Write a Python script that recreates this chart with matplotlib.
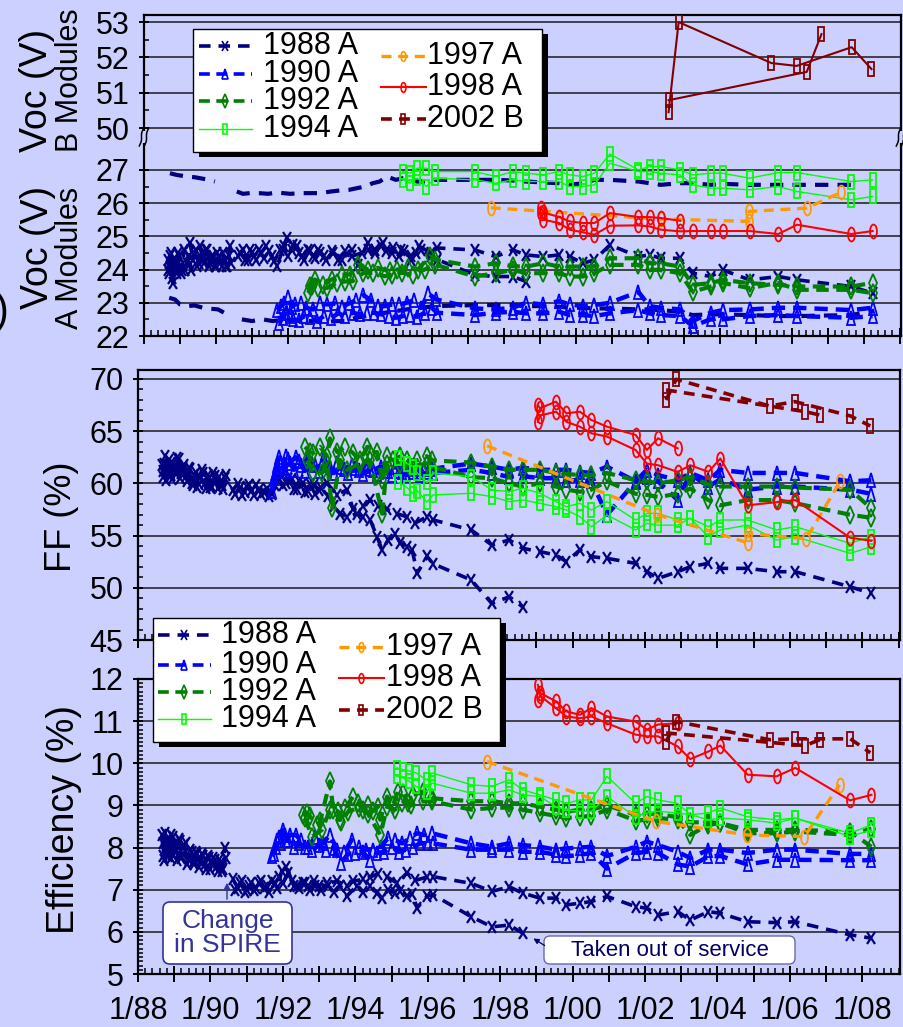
import numpy as np
import matplotlib
matplotlib.use("Agg")
import matplotlib.pyplot as plt
from matplotlib.markers import MarkerStyle
from matplotlib.transforms import Affine2D
from matplotlib.ticker import MultipleLocator, FixedLocator, FuncFormatter
from matplotlib.patches import Rectangle, FancyBboxPatch

plt.rcParams["font.family"] = ["Liberation Sans", "DejaVu Sans"]

nan = np.nan

# ---------------------------------------------------------------------------
# Measurement dates shared by most modules from 1997 on
LATE_T = [1997.20, 1997.77, 1998.25, 1998.62, 1999.10, 1999.54, 1999.83, 2000.20,
          2000.52, 2000.95, 2001.74, 2002.05, 2002.36, 2002.90, 2003.25, 2003.75,
          2004.08, 2004.83, 2005.63, 2006.15, 2007.66, 2008.25]

# ---- 1988 A modules ---------------------------------------------------------
NAVY1_T = [1988.66, 1988.70, 1988.75, 1988.80, 1988.86, 1988.92, 1988.98, 1989.05,
           1989.12, 1989.20, 1989.28, 1989.36, 1989.44, 1989.52, 1989.60, 1989.68,
           1989.76, 1989.84, 1989.92, 1990.00, 1990.08, 1990.16, 1990.24, 1990.32,
           1990.40, nan,
           1990.62, 1990.75, 1990.88, 1991.00, 1991.12, 1991.25, 1991.40, 1991.55,
           1991.70, 1991.85, 1991.97, 1992.10, 1992.25, 1992.40, 1992.55, 1992.70,
           1992.85, 1993.00, 1993.22, 1993.50, 1993.77, 1993.94, 1994.22, 1994.41,
           1994.63, 1994.88, 1995.15, 1995.43, 1995.65, 1995.98, 1996.15]
NAVY1_VOC = [24.3, 23.9, 24.5, 23.6, 24.2, 23.9, 24.4, 24.0, 24.6, 24.2, 24.8, 24.3,
             24.6, 24.2, 24.5, 24.2, 24.6, 24.2, 24.4, 24.1, 24.4, 24.1, 24.3, 24.1,
             24.7, nan,
             24.4, 24.6, 24.3, 24.5, 24.3, 24.5, 24.7, 24.4, 24.1, 24.6, 24.95, 24.6,
             24.7, 24.4, 24.6, 24.4, 24.6, 24.4, 24.55, 24.3, 24.6, 24.15, 24.8, 24.6,
             24.8, 24.5, 24.6, 24.4, 24.7, 24.5, 24.65]
NAVY1_FF = [61.8, 60.6, 62.6, 61.0, 62.2, 60.8, 61.9, 60.9, 62.3, 61.0, 61.8, 60.2,
            61.4, 59.8, 61.0, 59.9, 61.3, 60.0, 60.8, 59.7, 61.0, 60.2, 60.6, 59.8,
            60.5, nan,
            59.4, 59.9, 58.9, 59.7, 59.3, 59.8, 59.0, 59.5, 59.0, 60.3, 60.8, 60.0,
            60.4, 59.5, 60.0, 59.3, 59.8, 59.4, 60.0, 58.9, 59.4, 57.5, 57.8, 58.4,
            57.8, 57.5, 57.1, 56.8, 56.2, 56.8, 56.5]
NAVY1_EFF = [8.30, 7.80, 8.35, 7.90, 8.20, 7.75, 8.25, 7.90, 8.20, 7.75, 8.05, 7.60,
             7.95, 7.65, 7.90, 7.55, 7.85, 7.60, 7.80, 7.50, 7.75, 7.55, 7.70, 7.45,
             8.00, nan,
             7.25, 7.05, 7.20, 7.00, 7.15, 7.05, 7.20, 7.10, 7.20, 7.05, 7.45, 7.55,
             7.20, 7.10, 7.15, 7.10, 7.20, 7.10, 7.15, 7.20, 7.10, 7.20, 7.25, 7.30,
             7.38, 7.30, 7.16, 7.40, 7.22, 7.30, 7.31]
NAVY1_VOC_LATE = [24.59, 24.39, 24.59, 24.44, 24.39, 24.44, 24.39, 24.19, 24.29, 24.74,
                  24.39, 24.44, 24.34, 24.34, 23.89, 23.79, 23.99, 23.69, 23.79, 23.69,
                  23.49, 23.29]
NAVY1_FF_LATE = [55.54, 54.10, 54.58, 53.78, 53.46, 53.14, 52.50, 53.62, 52.98, 52.82,
                 52.34, 51.54, 50.90, 51.54, 52.02, 52.34, 51.86, 51.86, 51.54, 51.54,
                 50.10, 49.46]
NAVY1_EFF_LATE = [7.15, 6.96, 7.07, 6.92, 6.80, 6.80, 6.64, 6.68, 6.72, 6.84, 6.60,
                  6.56, 6.40, 6.48, 6.28, 6.48, 6.44, 6.24, 6.22, 6.24, 5.93, 5.85]

NAVY2_T = [1988.68, 1988.73, 1988.78, 1988.83, 1988.90, 1988.95, 1989.02, 1989.08,
           1989.15, 1989.24, 1989.32, 1989.40, 1989.48, 1989.56, 1989.64, 1989.72,
           1989.80, 1989.88, 1989.96, 1990.04, 1990.12, 1990.20, 1990.28, 1990.36,
           1990.42, nan,
           1990.68, 1990.82, 1990.95, 1991.06, 1991.20, 1991.33, 1991.48, 1991.62,
           1991.78, 1991.90, 1992.00, 1992.15, 1992.30, 1992.45, 1992.60, 1992.75,
           1992.90, 1993.05, 1993.25, 1993.40, 1993.58, 1993.77, 1994.05, 1994.22,
           1994.41, 1994.60, 1994.74, 1994.91, 1995.10, 1995.24, 1995.43, 1995.57,
           1995.71, 1995.98, 1996.15]
NAVY2_VOC = [24.0, 24.4, 23.75, 24.3, 24.0, 24.5, 23.9, 24.2, 24.0, 24.4, 24.0, 24.5,
             24.1, 24.7, 24.3, 24.6, 24.1, 24.4, 24.1, 24.5, 24.2, 24.5, 24.1, 24.4,
             24.2, nan,
             24.5, 24.3, 24.6, 24.4, 24.6, 24.35, 24.55, 24.25, 24.6, 24.7, 24.4, 24.75,
             24.5, 24.3, 24.55, 24.35, 24.5, 24.3, 24.5, 24.3, 24.55, 24.4, 24.5, 24.6,
             24.5, 24.7, 24.55, 24.65, 24.4, 24.55, 24.3, 24.5, 24.6, 24.4, 24.3]
NAVY2_FF = [61.2, 61.9, 60.3, 61.6, 62.0, 60.4, 61.5, 62.4, 60.5, 61.6, 60.7, 61.5,
            60.0, 60.8, 59.7, 60.6, 61.0, 59.6, 60.5, 59.7, 60.7, 59.6, 60.2, 59.5,
            60.8, nan,
            59.0, 59.6, 59.2, 59.8, 58.9, 59.4, 59.2, 58.8, 59.8, 60.5, 59.8, 60.4,
            59.5, 60.2, 59.2, 59.9, 59.0, 59.6, 58.8, 57.8, 57.1, 56.8, 57.1, 56.8,
            56.5, 54.9, 53.6, 54.6, 55.2, 54.3, 53.9, 53.6, 51.4, 53.0, 52.3]
NAVY2_EFF = [8.10, 7.70, 8.15, 7.80, 8.30, 7.85, 8.10, 7.70, 8.15, 7.85, 8.10, 7.70,
             7.90, 7.60, 7.85, 7.65, 7.80, 7.50, 7.75, 7.60, 7.70, 7.45, 7.65, 7.50,
             7.75, nan,
             7.00, 7.15, 6.95, 7.10, 7.00, 7.15, 7.05, 6.95, 7.15, 7.30, 7.15, 7.40,
             7.10, 7.05, 7.15, 7.00, 7.10, 7.00, 7.10, 6.95, 7.10, 6.85, 7.10, 6.95,
             7.10, 6.92, 6.80, 7.00, 6.92, 6.96, 6.85, 6.90, 6.57, 6.85, 6.88]
NAVY2_VOC_LATE = [23.84, 23.79, 23.79, 23.64]
NAVY2_FF_LATE = [50.75, 48.50, 49.14, 48.18]
NAVY2_EFF_LATE = [6.36, 6.12, 6.16, 5.97]

# upper and lower 1988 A open-circuit voltage traces
VOC_A_T = [1988.72, 1988.90, 1989.19, 1989.40, 1989.56, 1989.80, 1989.97, nan,
           1990.58, 1990.75, 1990.94, 1991.20, 1991.45, 1991.69, 1992.06, 1992.42,
           1992.89, 1993.20, 1993.44, 1993.70, 1993.92, 1994.15, 1994.36, 1994.55,
           1994.75, 1995.00, 1995.19, 1995.40, 1995.58, 1995.94, 1996.08]
VOC_A_EARLY = [26.90, 26.85, 26.80, 26.78, 26.75, 26.70, 26.65, nan,
               26.35, 26.28, 26.30, 26.30, 26.28, 26.32, 26.28, 26.30, 26.30, 26.35,
               26.38, 26.40, 26.45, 26.50, 26.60, 26.65, 26.80, 26.70, 26.75, 26.75,
               26.65, 26.65, 26.70]
VOC_A_LATE = [26.70, 26.70, 26.68, 26.65, 26.62, 26.60, 26.55, 26.60, 26.70, 26.70,
              26.65, 26.60, 26.55, 26.60, 26.60, 26.55, 26.58, 26.55, 26.55, 26.55,
              26.55, nan]
VOC_D_T = [1988.70, 1988.86, 1989.00, 1989.22, 1989.40, 1989.64, 1989.85, 1990.06,
           1990.31, nan,
           1990.72, 1991.00, 1991.30, 1991.58, 1991.90, 1992.33, 1992.70, 1993.00,
           1993.30, 1993.60, 1993.90, 1994.30, 1994.70, 1995.00, 1995.30, 1995.70,
           1996.08]
VOC_D_EARLY = [23.15, 23.10, 22.95, 22.90, 22.92, 22.85, 22.82, 22.80, 22.65, nan,
               22.50, 22.45, 22.50, 22.45, 22.50, 22.45, 22.45, 22.40, 22.45, 22.45,
               22.55, 22.62, 22.70, 22.75, 22.80, 22.85, 22.90]
VOC_D_LATE = [22.93, 22.93, 22.93, 22.90, 22.90, 22.88, 22.85, 22.85, 22.83, 22.83,
              22.80, 22.80, 22.78, 22.73, 22.63, 22.65, 22.65, 22.63, 22.60, 22.60,
              22.63, 22.75]

# ---- 1990 A modules ---------------------------------------------------------
BLUE1_T = [1991.70, 1991.80, 1991.90, 1992.00, 1992.10, 1992.20, 1992.35, 1992.50,
           1992.70, 1992.90, 1993.10, 1993.30, 1993.50, 1993.70, 1993.90, 1994.10,
           1994.30, 1994.50, 1994.70, 1994.90, 1995.10, 1995.30, 1995.50, 1995.70,
           1995.90, 1996.12]
BLUE1_VOC = [22.78, 22.90, 22.98, 23.18, 22.88, 22.95, 22.98, 22.85, 22.80, 22.98,
             22.95, 22.98, 22.88, 22.98, 23.08, 23.23, 23.08, 22.90, 22.90, 22.95,
             22.95, 23.00, 23.08, 22.85, 23.28, 23.10]
BLUE1_FF = [59.3, 61.2, 62.5, 61.5, 62.6, 62.0, 62.5, 61.8, 62.4, 61.8, 62.2, 61.6,
            62.0, 61.4, 61.8, 61.3, 61.7, 61.3, 61.6, 61.2, 61.6, 61.1, 61.4, 61.1,
            61.4, 61.4]
BLUE1_EFF = [7.79, 8.01, 8.26, 8.42, 8.18, 8.30, 8.30, 8.18, 8.02, 8.26, 8.10, 8.30,
             7.95, 7.90, 8.18, 8.02, 7.95, 7.95, 8.02, 8.22, 8.18, 8.10, 8.22, 8.34,
             8.30, 8.34]
BLUE2_T = [1991.76, 1991.85, 1991.95, 1992.05, 1992.15, 1992.30, 1992.45, 1992.60,
           1992.80, 1993.00, 1993.20, 1993.40, 1993.60, 1993.80, 1994.00, 1994.20,
           1994.40, 1994.60, 1994.80, 1995.00, 1995.20, 1995.40, 1995.60, 1995.80,
           1996.00, 1996.14]
BLUE2_VOC = [22.38, 22.55, 22.68, 22.60, 22.50, 22.48, 22.60, 22.58, 22.45, 22.60,
             22.55, 22.68, 22.60, 22.70, 22.65, 22.70, 22.70, 22.65, 22.60, 22.55,
             22.60, 22.62, 22.58, 22.70, 22.85, 22.70]
BLUE2_FF = [60.5, 61.8, 62.0, 61.2, 62.3, 61.3, 62.1, 61.2, 61.9, 61.2, 61.8, 61.0,
            61.6, 61.0, 61.5, 60.9, 61.4, 60.9, 61.2, 60.8, 61.2, 60.8, 61.1, 60.8,
            61.1, 61.0]
BLUE2_EFF = [7.85, 8.17, 8.10, 8.30, 8.18, 8.02, 8.10, 8.02, 7.95, 8.05, 7.95, 8.00,
             7.63, 7.85, 7.87, 7.90, 7.71, 7.87, 7.90, 8.02, 7.90, 7.95, 8.02, 8.10,
             8.10, 8.10]
BLUE1_VOC_LATE = [22.83, 22.80, 22.85, 23.00, 22.95, 23.05, 22.95, 22.90, 22.93, 23.00,
                  23.33, 22.90, 22.85, 22.80, 22.45, 22.70, 22.78, 22.80, 22.85, 22.85,
                  22.78, 22.85]
BLUE2_VOC_LATE = [22.63, 22.70, 22.73, 22.68, 22.68, 22.73, 22.63, 22.63, 22.60, 22.68,
                  22.78, 22.68, 22.63, 22.60, 22.30, 22.50, 22.50, 22.60, 22.63, 22.60,
                  22.55, 22.60]
BLUE1_FF_LATE = [61.9, 61.6, 61.3, 61.5, 61.3, 61.3, 61.3, 61.1, 61.0, 61.6, 60.2, 61.3,
                 60.8, 60.3, 61.0, 60.3, 61.3, 61.0, 61.0, 61.0, 60.2, 60.3]
BLUE2_FF_LATE = [61.3, 61.0, 60.6, 60.7, 60.5, 60.5, 60.3, 60.3, 60.2, 57.0, 60.17, 60.6,
                 60.2, 58.4, 60.9, 59.7, 60.4, 59.4, 59.7, 59.7, 59.4, 59.0]
BLUE1_EFF_LATE = [8.10, 8.02, 8.10, 8.06, 8.02, 7.95, 7.98, 8.00, 8.02, 7.80, 8.02, 8.14,
                  8.06, 7.90, 7.75, 7.95, 7.95, 7.87, 7.95, 7.95, 7.85, 7.85]
BLUE2_EFF_LATE = [7.95, 7.95, 7.95, 7.90, 7.90, 7.83, 7.79, 7.83, 7.87, 7.50, 7.87, 7.90,
                  7.87, 7.60, 7.55, 7.79, 7.80, 7.60, 7.71, 7.71, 7.70, 7.70]

# ---- 1992 A modules ---------------------------------------------------------
GREEN1_VOC_T = [1992.60, 1992.75, 1992.97, 1993.22, 1993.50, 1993.72, 1993.94, 1994.22,
                1994.50, 1994.83, 1995.03, 1995.33, 1995.61, 1995.94, 1996.08]
GREEN1_VOC = [23.50, 23.70, 23.55, 23.70, 23.85, 23.85, 24.15, 24.00, 24.05, 23.95,
              24.00, 24.05, 24.00, 24.40, 24.30]
GREEN2_VOC_T = [1992.56, 1992.67, 1992.83, 1993.10, 1993.36, 1993.58, 1993.80, 1994.10,
                1994.36, 1994.69, 1994.90, 1995.17, 1995.47, 1995.80, 1996.08]
GREEN2_VOC = [23.29, 23.49, 23.44, 23.45, 23.60, 23.64, 23.65, 23.90, 23.89, 23.80,
              23.85, 23.90, 23.85, 24.00, 24.15]
GREEN1_FF_T = [1992.61, 1992.75, 1992.84, 1993.03, 1993.22, 1993.30, 1993.50, 1993.72,
               1993.94, 1994.13, 1994.33, 1994.41, 1994.60, 1994.74, 1994.88, 1995.04,
               1995.24, 1995.43, 1995.71, 1995.98, 1996.12]
GREEN1_FF = [63.5, 63.0, 62.9, 63.5, 62.6, 64.3, 63.0, 63.5, 62.9, 62.2, 63.5, 62.9,
             63.0, 60.3, 62.6, 62.2, 62.6, 62.2, 62.2, 62.6, 62.2]
GREEN2_FF_T = [1992.67, 1992.84, 1993.08, 1993.22, 1993.36, 1993.58, 1993.77, 1994.13,
               1994.41, 1994.74, 1994.88, 1995.24, 1995.51, 1995.98, 1996.12]
GREEN2_FF = [62.2, 61.0, 61.0, 62.0, 57.6, 62.24, 61.3, 61.9, 62.2, 57.1, 61.9, 61.9,
             61.6, 61.9, 61.6]
GREEN1_EFF_T = [1992.56, 1992.67, 1992.75, 1992.94, 1993.03, 1993.30, 1993.39, 1993.58,
                1993.72, 1993.94, 1994.08, 1994.22, 1994.35, 1994.49, 1994.63, 1994.69,
                1994.88, 1995.04, 1995.18, 1995.32, 1995.46, 1995.60, 1995.87, 1996.12]
GREEN1_EFF = [8.78, 8.82, 8.74, 8.54, 8.62, 9.57, 8.90, 8.66, 8.94, 9.21, 9.05, 8.90,
              9.01, 8.86, 8.97, 8.66, 9.21, 9.01, 9.33, 9.29, 9.05, 9.25, 9.33, 9.17]
GREEN2_EFF_T = [1992.60, 1992.81, 1993.08, 1993.30, 1993.52, 1993.60, 1993.80, 1994.10,
                1994.35, 1994.69, 1994.88, 1995.10, 1995.30, 1995.55, 1995.87, 1996.12]
GREEN2_EFF = [8.70, 8.26, 8.42, 8.90, 8.86, 8.60, 8.85, 8.95, 8.80, 8.30, 8.97, 8.90,
              9.05, 9.00, 9.10, 9.10]
GREEN1_VOC_LATE = [24.09, 24.19, 24.10, 24.09, 24.19, 24.09, 24.09, 24.09, 24.09, 24.34,
                   24.34, 24.19, 24.19, 24.09, 23.54, 23.59, 23.69, 23.59, 23.54, 23.49,
                   23.49, 23.60]
GREEN2_VOC_LATE = [23.79, 23.89, 23.99, 23.89, 23.89, 23.89, 23.79, 23.79, 23.89, 24.14,
                   24.14, 23.99, 23.99, 23.89, 23.33, 23.49, 23.60, 23.44, 23.60, 23.39,
                   23.39, 23.29]
GREEN1_FF_LATE = [62.0, 61.6, 61.3, 61.3, 61.3, 61.0, 60.9, 60.8, 60.8, 61.0, 60.3, 60.2,
                  60.0, 60.3, 60.6, 59.9, 59.7, 59.7, 59.7, 59.6, 59.4, 57.6]
GREEN2_FF_LATE = [60.6, 60.5, 60.0, 59.7, 60.0, 59.7, 59.4, 59.2, 59.4, 60.2, 59.0, 58.9,
                  58.7, 59.0, 59.5, 58.4, 57.9, 58.4, 58.4, 58.1, 57.0, 56.7]
GREEN1_EFF_LATE = [9.10, 9.10, 9.05, 9.05, 8.97, 8.90, 8.85, 8.90, 8.90, 9.00, 8.78, 8.80,
                   8.80, 8.72, 8.60, 8.60, 8.58, 8.42, 8.42, 8.42, 8.38, 8.02]
GREEN2_EFF_LATE = [8.90, 8.94, 8.95, 8.90, 8.82, 8.75, 8.70, 8.73, 8.75, 8.90, 8.64, 8.66,
                   8.70, 8.66, 8.30, 8.54, 8.58, 8.34, 8.34, 8.38, 8.30, 8.45]

# ---- 1994 A modules ---------------------------------------------------------
LIME_VOC_T = [1995.20, 1995.40, 1995.60, 1995.85, 1996.10]
LIME1_VOC = [26.95, 26.90, 27.05, 27.05, 26.95]
LIME2_VOC = [26.70, 26.60, 26.75, 26.50, 26.75]
LIME_FF_T = [1995.18, 1995.43, 1995.60, 1995.71, 1995.98, 1996.15]
LIME1_FF = [62.4, 61.9, 61.6, 61.0, 60.1, 61.0]
LIME2_FF = [60.1, 59.6, 59.0, 59.3, 58.2, 58.9]
LIME_EFF_T = [1995.15, 1995.32, 1995.49, 1995.68, 1995.98, 1996.12]
LIME1_EFF = [9.89, 9.85, 9.82, 9.77, 9.60, 9.77]
LIME2_EFF = [9.69, 9.65, 9.57, 9.45, 9.33, 9.53]
LIME1_VOC_LATE = [26.95, 26.80, 26.95, 26.90, 26.85, 26.95, 26.85, 26.80, 26.90, 27.48,
                  27.00, 27.10, 27.10, 27.00, 26.85, 26.90, 26.90, 26.75, 26.92, 26.92,
                  26.65, 26.70]
LIME2_VOC_LATE = [26.70, 26.60, 26.70, 26.65, 26.65, 26.65, 26.50, 26.50, 26.55, 27.20,
                  26.95, 26.95, 26.90, 26.85, 26.55, 26.45, 26.45, 26.40, 26.50, 26.35,
                  26.10, 26.20]
LIME1_FF_LATE = [60.64, 59.37, 59.21, 59.53, 59.05, 58.25, 57.77, 58.09, 57.45, 58.25,
                 56.49, 57.13, 57.13, 56.49, 56.66, 55.85, 56.49, 56.50, 55.54, 55.85,
                 54.26, 54.90]
LIME2_FF_LATE = [59.05, 58.73, 58.25, 58.41, 58.09, 57.77, 57.45, 56.81, 55.85, 56.97,
                 55.54, 56.17, 56.00, 56.00, 56.66, 54.90, 55.54, 56.00, 54.58, 54.90,
                 53.30, 53.94]
LIME1_EFF_LATE = [9.49, 9.45, 9.61, 9.37, 9.25, 9.13, 9.05, 9.13, 9.13, 9.69, 9.05, 9.21,
                  9.13, 9.05, 8.78, 8.82, 8.94, 8.73, 8.66, 8.70, 8.34, 8.54]
LIME2_EFF_LATE = [9.29, 9.29, 9.37, 9.25, 9.21, 8.97, 8.90, 8.86, 8.86, 9.21, 8.73, 8.82,
                  8.86, 8.82, 8.78, 8.66, 8.70, 8.66, 8.58, 8.70, 8.26, 8.42]

# ---- 1997 A module ----------------------------------------------------------
ORANGE_VOC_T = [1997.64, 2002.36, 2004.81, 2004.81, 2006.42, 2007.36]
ORANGE_VOC = [25.86, 25.52, 25.45, 25.75, 25.85, 26.32]
ORANGE_FF_T = [1997.64, 2002.34, 2004.85, 2004.85, 2006.45, 2007.39]
ORANGE_FF = [63.6, 57.0, 54.3, 55.2, 54.7, 60.2]
ORANGE_EFF_T = [1997.64, 2002.31, 2004.82, 2006.40, 2007.37]
ORANGE_EFF = [10.04, 8.62, 8.30, 8.26, 9.49]

# ---- 1998 A modules ---------------------------------------------------------
RED_T = [1999.04, 1999.10] + LATE_T[5:]
RED1_VOC = [25.86, 25.72, 25.58, 25.45, 25.40, 25.40, 25.70, 25.58, 25.58, 25.55, 25.47]
RED2_VOC = [25.70, 25.50, 25.40, 25.20, 25.12, 25.05, 25.32, 25.33, 25.30, 25.20, 25.15,
            25.16, 25.16, 25.16, 25.16, 25.07, 25.35, 25.07, 25.16]
RED1_FF = [67.5, 67.2, 67.83, 66.71, 66.87, 66.07, 65.43, 64.64, 63.2, 64.32, 63.36]
RED2_FF = [65.9, 66.5, 66.87, 65.9, 65.43, 64.8, 64.48, 63.2, 61.9, 61.74, 61.1, 61.74,
           61.1, 62.38, 57.9, 58.2, 58.4, 54.8, 54.5]
RED1_EFF = [11.86, 11.67, 11.47, 11.23, 11.15, 11.31, 11.11, 10.99, 10.80, 10.92, 10.95]
RED2_EFF = [11.51, 11.60, 11.31, 11.11, 11.07, 11.11, 10.95, 10.68, 10.64, 10.64, 10.40,
            10.10, 10.28, 10.42, 9.73, 9.69, 9.89, 9.12, 9.25]

# ---- 2002 B modules ---------------------------------------------------------
DRED1_T = [2002.58, 2002.86, 2005.44, 2006.14, 2007.67, 2008.22]
DRED2_T = [2002.58, 2006.42, 2006.83]
DRED1_VOC = [50.45, 53.00, 51.84, 51.76, 52.29, 51.67]
DRED2_VOC = [50.79, 51.59, 52.66]
DRED1_FF = [67.99, 69.97, 67.41, 67.83, 66.46, 65.50]
DRED2_FF = [68.95, 66.87, 66.55]
DRED1_EFF = [10.51, 10.99, 10.56, 10.58, 10.58, 10.25]
DRED2_EFF = [10.72, 10.42, 10.56]

YEAR_LABELS = ["1/88", "1/90", "1/92", "1/94", "1/96", "1/98",
               "1/00", "1/02", "1/04", "1/06", "1/08"]
LEGEND_COL1 = ["1988 A", "1990 A", "1992 A", "1994 A"]
LEGEND_COL2 = ["1997 A", "1998 A", "2002 B"]

# ---------------------------------------------------------------------------
W, H, DPI = 904, 1027, 100
BG = "#ccd0ff"


def tall(shape, sx):
    return MarkerStyle(shape, fillstyle="none",
                       transform=Affine2D().scale(sx, 1.0))


STYLE = {
    "1988 A": dict(color="#000080", ls=(0, (3.2, 2.2)), lw=2.6, marker=tall("x", 0.72), ms=8.0, mew=1.6),
    "1990 A": dict(color="#0000ff", ls=(0, (3.0, 1.8)), lw=3.2, marker=tall("^", 0.62), ms=9.5, mew=1.3),
    "1992 A": dict(color="#008000", ls=(0, (3.0, 1.8)), lw=3.0, marker=tall("D", 0.45), ms=9.5, mew=1.3),
    "1994 A": dict(color="#00ff00", ls="-", lw=1.0, marker=tall("s", 0.5), ms=9.5, mew=1.3),
    "1997 A": dict(color="#ff9900", ls=(0, (3.0, 2.0)), lw=2.4, marker=tall("o", 0.5), ms=10, mew=1.3),
    "1998 A": dict(color="#ff0000", ls="-", lw=1.5, marker=tall("o", 0.5), ms=10, mew=1.3),
    "2002 B": dict(color="#800000", ls=(0, (3.0, 2.0)), lw=2.6, marker=tall("s", 0.5), ms=10, mew=1.3),
}


def draw(ax, t, v, key, markers=True, **over):
    st = dict(STYLE[key])
    st.update(over)
    ax.plot(t, v, color=st["color"], linestyle=st["ls"], linewidth=st["lw"],
            marker=st["marker"] if markers else "None", markersize=st["ms"],
            markeredgewidth=st["mew"], markerfacecolor="none",
            markeredgecolor=st["color"], zorder=3)


def join(a, b):
    return np.r_[np.asarray(a, float), np.asarray(b, float)]


def px_box(x0, y0, x1, y1):
    return [x0 / W, 1 - y1 / H, (x1 - x0) / W, (y1 - y0) / H]


fig = plt.figure(figsize=(W / DPI, H / DPI), dpi=DPI, facecolor=BG)
ax_vb = fig.add_axes(px_box(144, 15, 901, 137))
ax_va = fig.add_axes(px_box(144, 137, 901, 336))
ax_ff = fig.add_axes(px_box(138, 370, 900, 640))
ax_ef = fig.add_axes(px_box(138, 679, 900, 974))

for ax in (ax_vb, ax_va, ax_ff, ax_ef):
    ax.set_facecolor("none")
    ax.set_xlim(1988, 2009.04)
    for s in ax.spines.values():
        s.set_linewidth(1.6)
    ax.xaxis.set_major_locator(MultipleLocator(1))
    ax.xaxis.set_minor_locator(MultipleLocator(0.2))
    ax.tick_params(axis="x", which="major", direction="inout", length=12, width=1.4,
                   labelsize=22, pad=10, top=False, labelbottom=False)
    ax.tick_params(axis="x", which="minor", direction="in", length=4.5, width=1.1, top=False)
    ax.tick_params(axis="y", which="major", direction="inout", length=7, width=1.4,
                   labelsize=22, pad=7, right=False)
    ax.tick_params(axis="y", which="minor", direction="in", length=3.5, width=1.1, right=False)
    ax.yaxis.grid(True, which="major", color="#1a1a1a", lw=1.1)
    ax.set_axisbelow(True)
    ax.yaxis.set_major_formatter(FuncFormatter(lambda y, p: "%d" % round(y)))

# Voc axes with a broken scale
ax_vb.set_ylim(49.75, 53.2)
ax_vb.yaxis.set_major_locator(FixedLocator([50, 51, 52, 53]))
ax_vb.yaxis.set_minor_locator(FixedLocator([50.5, 51.5, 52.5]))
ax_vb.spines["bottom"].set_visible(False)
ax_vb.tick_params(axis="x", which="both", bottom=False, labelbottom=False)
ax_va.set_ylim(22, 27.99)
ax_va.yaxis.set_major_locator(FixedLocator([22, 23, 24, 25, 26, 27]))
ax_va.yaxis.set_minor_locator(FixedLocator([22.5, 23.5, 24.5, 25.5, 26.5]))
ax_va.spines["top"].set_visible(False)

ax_ff.set_ylim(45, 70.86)
ax_ff.yaxis.set_major_locator(MultipleLocator(5))
ax_ff.yaxis.set_minor_locator(MultipleLocator(1))

ax_ef.set_ylim(5, 12)
ax_ef.yaxis.set_major_locator(MultipleLocator(1))
ax_ef.yaxis.set_minor_locator(MultipleLocator(0.1))
ax_ef.set_xticks(np.arange(1988, 2009, 1), minor=False,
                 labels=[YEAR_LABELS[i // 2] if i % 2 == 0 else "" for i in range(21)])
ax_ef.xaxis.set_minor_locator(MultipleLocator(0.2))
ax_ef.tick_params(axis="x", labelbottom=True)

# ---- Voc -------------------------------------------------------------------
draw(ax_va, join(VOC_A_T, LATE_T), join(VOC_A_EARLY, VOC_A_LATE), "1988 A", markers=False, lw=3.0)
draw(ax_va, join(VOC_D_T, LATE_T), join(VOC_D_EARLY, VOC_D_LATE), "1988 A", markers=False, lw=3.0)
draw(ax_va, join(NAVY1_T, LATE_T), join(NAVY1_VOC, NAVY1_VOC_LATE), "1988 A")
draw(ax_va, join(NAVY2_T, LATE_T[:4]), join(NAVY2_VOC, NAVY2_VOC_LATE), "1988 A")
draw(ax_va, join(BLUE1_T, LATE_T), join(BLUE1_VOC, BLUE1_VOC_LATE), "1990 A")
draw(ax_va, join(BLUE2_T, LATE_T), join(BLUE2_VOC, BLUE2_VOC_LATE), "1990 A")
draw(ax_va, join(GREEN1_VOC_T, LATE_T), join(GREEN1_VOC, GREEN1_VOC_LATE), "1992 A")
draw(ax_va, join(GREEN2_VOC_T, LATE_T), join(GREEN2_VOC, GREEN2_VOC_LATE), "1992 A")
draw(ax_va, join(LIME_VOC_T, LATE_T), join(LIME1_VOC, LIME1_VOC_LATE), "1994 A")
draw(ax_va, join(LIME_VOC_T, LATE_T), join(LIME2_VOC, LIME2_VOC_LATE), "1994 A")
draw(ax_va, ORANGE_VOC_T, ORANGE_VOC, "1997 A")
draw(ax_va, RED_T[:len(RED1_VOC)], RED1_VOC, "1998 A")
draw(ax_va, RED_T, RED2_VOC, "1998 A")
draw(ax_vb, DRED1_T, DRED1_VOC, "2002 B", ls="-", lw=1.5)
draw(ax_vb, DRED2_T, DRED2_VOC, "2002 B", ls="-", lw=1.5)

# ---- FF --------------------------------------------------------------------
draw(ax_ff, join(NAVY1_T, LATE_T), join(NAVY1_FF, NAVY1_FF_LATE), "1988 A")
draw(ax_ff, join(NAVY2_T, LATE_T[:4]), join(NAVY2_FF, NAVY2_FF_LATE), "1988 A")
draw(ax_ff, join(BLUE1_T, LATE_T), join(BLUE1_FF, BLUE1_FF_LATE), "1990 A")
draw(ax_ff, join(BLUE2_T, LATE_T), join(BLUE2_FF, BLUE2_FF_LATE), "1990 A")
draw(ax_ff, join(GREEN1_FF_T, LATE_T), join(GREEN1_FF, GREEN1_FF_LATE), "1992 A")
draw(ax_ff, join(GREEN2_FF_T, LATE_T), join(GREEN2_FF, GREEN2_FF_LATE), "1992 A")
draw(ax_ff, join(LIME_FF_T, LATE_T), join(LIME1_FF, LIME1_FF_LATE), "1994 A")
draw(ax_ff, join(LIME_FF_T, LATE_T), join(LIME2_FF, LIME2_FF_LATE), "1994 A")
draw(ax_ff, ORANGE_FF_T, ORANGE_FF, "1997 A")
draw(ax_ff, RED_T[:len(RED1_FF)], RED1_FF, "1998 A")
draw(ax_ff, RED_T, RED2_FF, "1998 A")
draw(ax_ff, DRED1_T, DRED1_FF, "2002 B")
draw(ax_ff, DRED2_T, DRED2_FF, "2002 B")

# ---- Efficiency ------------------------------------------------------------
draw(ax_ef, join(NAVY1_T, LATE_T), join(NAVY1_EFF, NAVY1_EFF_LATE), "1988 A")
draw(ax_ef, join(NAVY2_T, LATE_T[:4]), join(NAVY2_EFF, NAVY2_EFF_LATE), "1988 A")
draw(ax_ef, join(BLUE1_T, LATE_T), join(BLUE1_EFF, BLUE1_EFF_LATE), "1990 A")
draw(ax_ef, join(BLUE2_T, LATE_T), join(BLUE2_EFF, BLUE2_EFF_LATE), "1990 A")
draw(ax_ef, join(GREEN1_EFF_T, LATE_T), join(GREEN1_EFF, GREEN1_EFF_LATE), "1992 A")
draw(ax_ef, join(GREEN2_EFF_T, LATE_T), join(GREEN2_EFF, GREEN2_EFF_LATE), "1992 A")
draw(ax_ef, join(LIME_EFF_T, LATE_T), join(LIME1_EFF, LIME1_EFF_LATE), "1994 A")
draw(ax_ef, join(LIME_EFF_T, LATE_T), join(LIME2_EFF, LIME2_EFF_LATE), "1994 A")
draw(ax_ef, ORANGE_EFF_T, ORANGE_EFF, "1997 A")
draw(ax_ef, RED_T[:len(RED1_EFF)], RED1_EFF, "1998 A")
draw(ax_ef, RED_T, RED2_EFF, "1998 A")
draw(ax_ef, DRED1_T, DRED1_EFF, "2002 B")
draw(ax_ef, DRED2_T, DRED2_EFF, "2002 B")

# ---- overlay in pixel units for labels, legends and notes ------------------
ov = fig.add_axes([0, 0, 1, 1], zorder=10)
ov.set_xlim(0, W)
ov.set_ylim(H, 0)
ov.axis("off")

# axis titles
ov.text(37, 90, "Voc (V)", rotation=90, fontsize=27, ha="center", va="center")
ov.text(70, 80, "B Modules", rotation=90, fontsize=22, ha="center", va="center")
ov.text(38, 247, "Voc (V)", rotation=90, fontsize=27, ha="center", va="center")
ov.text(70, 258, "A Modules", rotation=90, fontsize=22, ha="center", va="center")
ov.text(62, 517, "FF (%)", rotation=90, fontsize=26, ha="center", va="center")
ov.text(64, 820, "Efficiency (%)", rotation=90, fontsize=27, ha="center", va="center")
ov.text(-5, 312, ")", fontsize=30, ha="left", va="center")

# break marks on the Voc frame
s = np.linspace(0, 1, 40)
for cx in (144, 901):
    ov.add_patch(Rectangle((cx - 5, 131), 10, 12, facecolor=BG, edgecolor="none"))
    for dx in (-2.5, 2.5):
        ov.plot(cx + dx + 2.2 * np.cos(np.pi * s) - 1.2 * np.sin(2 * np.pi * s),
                128 + 18 * s, color="black", lw=1.1)


def legend_box(x0, y0, w, h, col1_y, col2_y, c1, c2):
    ov.add_patch(Rectangle((x0 + 6, y0 + 5), w, h, facecolor="black", edgecolor="none"))
    ov.add_patch(Rectangle((x0, y0), w, h, facecolor="white", edgecolor="black", lw=1.0))
    for labels, ys, (lx0, lx1, tx) in ((LEGEND_COL1, col1_y, c1), (LEGEND_COL2, col2_y, c2)):
        for lab, y in zip(labels, ys):
            st = STYLE[lab]
            lw = min(st["lw"], 2.6)
            ov.plot([lx0, lx1], [y, y], color=st["color"], linestyle=st["ls"], lw=lw)
            ov.plot([(lx0 + lx1) / 2], [y], color=st["color"], marker=st["marker"],
                    ms=7, mew=1.2, mfc="white", mec=st["color"], ls="None")
            ov.text(tx, y, lab, fontsize=22, ha="left", va="center")


legend_box(193, 29, 349, 123, [46, 74, 101, 129], [56, 87, 119],
           (199, 252, 263), (381, 426, 427))
legend_box(153, 618, 347, 124, [635, 665, 692, 719], [647, 678, 710],
           (158, 211, 221), (339, 384, 386))

# notes
ov.add_patch(FancyBboxPatch((163, 902), 129, 62, boxstyle="round,pad=0,rounding_size=7",
                            facecolor="white", edgecolor="#333399", lw=1.2))
ov.text(227.5, 933, "Change\nin SPIRE", fontsize=19, color="#333399",
        ha="center", va="center", linespacing=1.05)
ov.annotate("", xy=(227, 880), xytext=(227, 902),
            arrowprops=dict(arrowstyle="-|>", color="#333399", lw=1.0, mutation_scale=10))

ov.add_patch(FancyBboxPatch((544, 936), 251, 28, boxstyle="round,pad=0,rounding_size=6",
                            facecolor="white", edgecolor="#6a6aaa", lw=1.0))
ov.text(669.5, 950, "Taken out of service", fontsize=16, color="#000066",
        ha="center", va="center")
ov.annotate("", xy=(531, 937), xytext=(547, 947),
            arrowprops=dict(arrowstyle="-|>", color="#000066", lw=0.9, mutation_scale=8))

fig.savefig("out.png", dpi=DPI, facecolor=BG)
